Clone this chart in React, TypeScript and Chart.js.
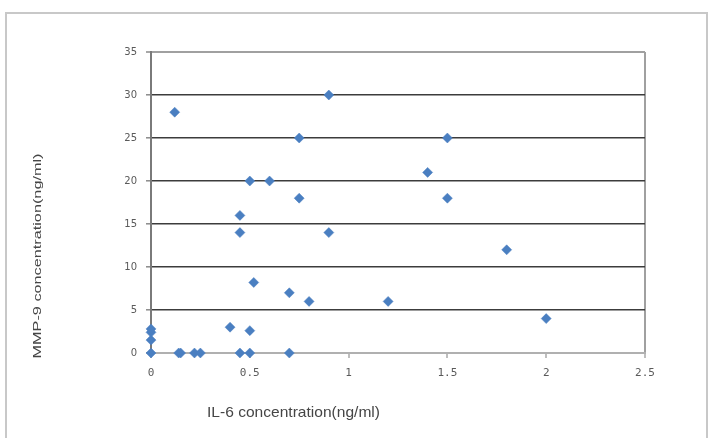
import React, { useEffect, useRef } from "react";
import { Chart, registerables } from "chart.js";

Chart.register(...registerables);

// IL-6 concentration (ng/ml) for each sample
const il6Values = [
  0, 0, 0, 0, 0.12, 0.14, 0.15, 0.22, 0.25, 0.4, 0.45, 0.45, 0.45, 0.5, 0.5, 0.5,
  0.52, 0.6, 0.7, 0.7, 0.75, 0.75, 0.8, 0.9, 0.9, 1.2, 1.4, 1.5, 1.5, 1.8, 2.0,
];
// MMP-9 concentration (ng/ml) for each sample
const mmp9Values = [
  0, 1.5, 2.4, 2.8, 28, 0, 0, 0, 0, 3, 0, 14, 16, 0, 2.6, 20,
  8.2, 20, 0, 7, 18, 25, 6, 14, 30, 6, 21, 18, 25, 12, 4,
];
const xTicks = [0, 0.5, 1, 1.5, 2, 2.5];
const yTicks = [0, 5, 10, 15, 20, 25, 30, 35];
const xTitle = "IL-6 concentration(ng/ml)";
const yTitle = "MMP-9 concentration(ng/ml)";

const framePlugin = {
  id: "frame",
  beforeDraw(chart: any) {
    const ctx = chart.ctx;
    ctx.save();
    ctx.fillStyle = "#ffffff";
    ctx.fillRect(0, 0, chart.width, chart.height);
    ctx.strokeStyle = "#c8c8c8";
    ctx.lineWidth = 2;
    ctx.strokeRect(6, 13, 701, 440);
    ctx.restore();
  },
};

const titlesPlugin = {
  id: "titles",
  afterDraw(chart: any) {
    const ctx = chart.ctx;
    const a = chart.chartArea;
    ctx.save();
    ctx.fillStyle = "#454545";
    ctx.textBaseline = "middle";
    // x title
    ctx.font = '15px "Liberation Sans", Arial, sans-serif';
    ctx.textAlign = "left";
    const xw = ctx.measureText(xTitle).width;
    ctx.translate(a.left + 56, a.bottom + 60);
    ctx.scale(173 / xw, 1);
    ctx.fillText(xTitle, 0, 0);
    ctx.restore();
    // y title
    ctx.save();
    ctx.fillStyle = "#454545";
    ctx.textBaseline = "middle";
    ctx.textAlign = "center";
    ctx.font = '11.5px "Liberation Sans", Arial, sans-serif';
    const yw = ctx.measureText(yTitle).width;
    ctx.translate(a.left - 113, a.top + 204);
    ctx.rotate(-Math.PI / 2);
    ctx.scale(205 / yw, 1);
    ctx.fillText(yTitle, 0, 0);
    ctx.restore();
  },
};

export default function App() {
  const ref = useRef<HTMLCanvasElement | null>(null);

  useEffect(() => {
    document.body.style.margin = "0";
    const canvas = ref.current;
    if (!canvas) return;
    const points = il6Values.map((x, i) => ({ x, y: mmp9Values[i] }));
    const chart = new Chart(canvas, {
      type: "scatter",
      data: {
        datasets: [
          {
            label: "MMP-9",
            data: points,
            clip: false,
            pointStyle: "rectRot",
            pointRadius: 5,
            pointHoverRadius: 5,
            backgroundColor: "#4a7fc1",
            borderColor: "#4a7fc1",
            borderWidth: 0.5,
          },
        ],
      },
      options: {
        responsive: false,
        animation: false,
        events: [],
        layout: { padding: { left: 0, top: 52, right: 72, bottom: 0 } },
        plugins: {
          legend: { display: false },
          tooltip: { enabled: false },
          title: { display: false },
        },
        scales: {
          x: {
            type: "linear",
            min: 0,
            max: 2.5,
            afterFit: (s: any) => {
              s.height = 85;
            },
            afterBuildTicks: (s: any) => {
              s.ticks = xTicks.map((v) => ({ value: v }));
            },
            ticks: {
              color: "#5a5a5a",
              font: { family: '"DejaVu Sans Mono", monospace', size: 11 },
              padding: 9,
              maxRotation: 0,
              callback: (v: any) => String(v),
            },
            grid: {
              color: (c: any) =>
                c.tick && c.tick.value === 2.5 ? "#a0a0a0" : "rgba(0,0,0,0)",
              lineWidth: 2,
              tickColor: "#a8a8a8",
              tickLength: 5,
              tickWidth: 1.5,
            },
            border: { color: "#b0b0b0", width: 2 },
          },
          y: {
            type: "linear",
            min: 0,
            max: 35,
            afterFit: (s: any) => {
              s.width = 151;
            },
            afterBuildTicks: (s: any) => {
              s.ticks = yTicks.map((v) => ({ value: v }));
            },
            ticks: {
              color: "#5a5a5a",
              font: { family: '"DejaVu Sans", sans-serif', size: 10 },
              padding: 9,
              callback: (v: any) => String(v),
            },
            grid: {
              color: (c: any) =>
                c.tick && c.tick.value === 35
                  ? "#a0a0a0"
                  : c.tick && c.tick.value === 0
                  ? "rgba(0,0,0,0)"
                  : "#3c3c3c",
              lineWidth: (c: any) => (c.tick && c.tick.value === 35 ? 2 : 1.6),
              tickColor: "#8a8a8a",
              tickLength: 5,
              tickWidth: 1.5,
            },
            border: { color: "#7a7a7a", width: 2 },
          },
        },
      },
      plugins: [framePlugin, titlesPlugin],
    });
    return () => chart.destroy();
  }, []);

  return (
    <canvas
      ref={ref}
      width={717}
      height={438}
      style={{ display: "block", width: 717, height: 438 }}
    />
  );
}
